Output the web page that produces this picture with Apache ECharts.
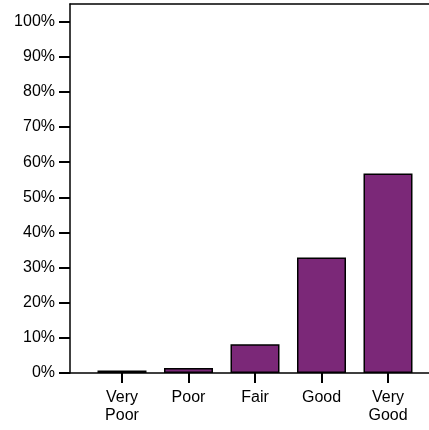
<!DOCTYPE html>
<html>
<head>
<meta charset="utf-8">
<script src="https://cdn.jsdelivr.net/npm/echarts@6/dist/echarts.min.js"></script>
<style>html,body{margin:0;padding:0;background:#fff}#c{width:429px;height:430px}</style>
</head>
<body>
<div id="c"></div>
<script>
var categories = ['Very\nPoor', 'Poor', 'Fair', 'Good', 'Very\nGood'];
var values = [0.7, 1.4, 8.2, 32.9, 56.8];
var yTicks = [0, 10, 20, 30, 40, 50, 60, 70, 80, 90, 100];

var chart = echarts.init(document.getElementById('c'), null, {renderer: 'canvas'});
var font = 'Liberation Sans, Arial, sans-serif';
chart.setOption({
  animation: false,
  grid: [
    {left: 70, right: 0, top: 4, bottom: 57},
    {left: 88.75, right: 7.75, top: 4, bottom: 57}
  ],
  xAxis: [
    {gridIndex: 0, type: 'value', min: 0, max: 1, position: 'bottom',
     axisLine: {show: true, onZero: false, lineStyle: {color: '#000', width: 1.5}},
     axisTick: {show: false}, axisLabel: {show: false}, splitLine: {show: false}},
    {gridIndex: 0, type: 'value', min: 0, max: 1, position: 'top',
     axisLine: {show: true, onZero: false, lineStyle: {color: '#000', width: 1.5}},
     axisTick: {show: false}, axisLabel: {show: false}, splitLine: {show: false}},
    {gridIndex: 1, type: 'category', data: categories, position: 'bottom',
     axisLine: {show: false},
     axisTick: {show: true, inside: false, alignWithLabel: true, length: 10, lineStyle: {color: '#000', width: 2}},
     axisLabel: {color: '#000', fontFamily: font, fontSize: 16, lineHeight: 18, margin: 16}}
  ],
  yAxis: [
    {gridIndex: 0, type: 'value', min: 0, max: 105,
     axisLine: {show: true, lineStyle: {color: '#000', width: 1.5}},
     axisTick: {show: true, inside: false, length: 11, customValues: yTicks, lineStyle: {color: '#000', width: 2}},
     axisLabel: {color: '#000', fontFamily: font, fontSize: 16, margin: 15,
                 customValues: yTicks, formatter: '{value}%'},
     splitLine: {show: false}},
    {gridIndex: 1, type: 'value', min: 0, max: 105, show: false}
  ],
  series: [{
    type: 'bar', xAxisIndex: 2, yAxisIndex: 1,
    data: values, barWidth: 49,
    itemStyle: {color: '#7B2878', borderColor: '#000', borderWidth: 1.5}
  }]
});
</script>
</body>
</html>
